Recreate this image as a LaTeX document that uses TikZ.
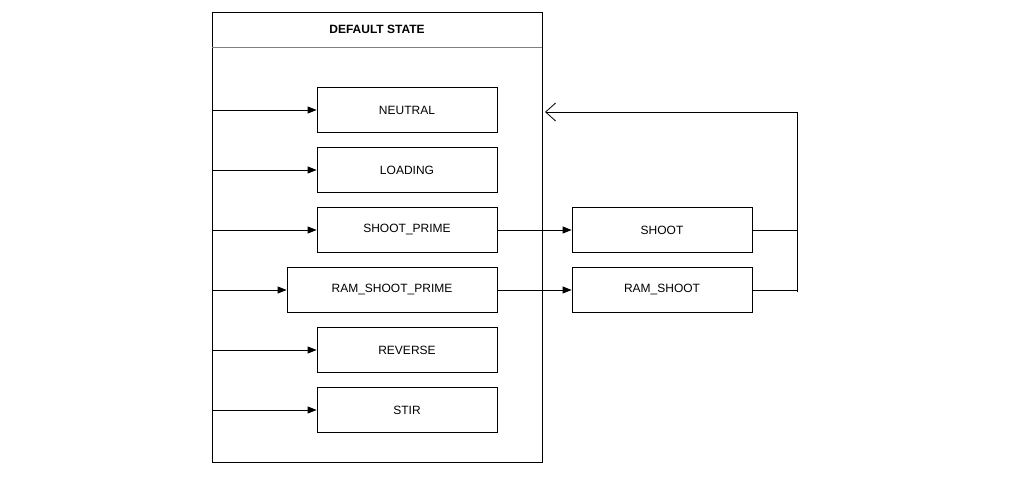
\documentclass[tikz,border=0pt]{standalone}
\usepackage{fontspec}
\setmainfont{Liberation Sans}
\usetikzlibrary{arrows.meta}
\begin{document}
\begin{tikzpicture}[x=1pt,y=-1pt,
  st/.style={draw,line width=0.8pt,minimum height=45pt,font=\fontsize{12}{14}\selectfont,inner sep=0pt},
  ar/.style={line width=0.8pt,-{Triangle[length=9pt,width=7pt]}},
  ln/.style={line width=0.8pt}]
\useasboundingbox (0,0) rectangle (1021,486);
\node[draw,line width=0.8pt,minimum width=330pt,minimum height=450pt,anchor=north west] (cont) at (212,12) {};
\draw[ln,gray] (212,47) -- (542,47);
\node[font=\bfseries\fontsize{12}{14}\selectfont] (title) at (377,29) {DEFAULT STATE};
\node[st,minimum width=180pt] (n) at (407,110) {NEUTRAL};
\node[st,minimum width=180pt] (l) at (407,170) {LOADING};
\node[st,minimum width=180pt] (sp) at (407,230) {SHOOT\_PRIME};
\node[st,minimum width=210pt] (rsp) at (392,290) {RAM\_SHOOT\_PRIME};
\node[st,minimum width=180pt] (r) at (407,350) {REVERSE};
\node[st,minimum width=180pt] (s) at (407,410) {STIR};
\node[st,minimum width=180pt] (sh) at (662,230) {SHOOT};
\node[st,minimum width=180pt] (rs) at (662,290) {RAM\_SHOOT};
\foreach \b/\y in {n/110,l/170,sp/230,rsp/290,r/350,s/410}{
  \coordinate (c\b) at (212,\y);
  \draw[ar] (c\b) -- (\b.west);}
\draw[ar] (sp.east) -- (sh.west);
\draw[ar] (rsp.east) -- (rs.west);
\coordinate (t) at (797,112);
\coordinate (tip) at (545,112);
\draw[ln] (sh.east) -- (797,230);
\draw[ln] (rs.east) -- (797,290);
\draw[ln] (797,292) -- (t);
\draw[ln,-{Straight Barb[length=10pt,width=18pt]}] (t) -- (tip);
\end{tikzpicture}
\end{document}
